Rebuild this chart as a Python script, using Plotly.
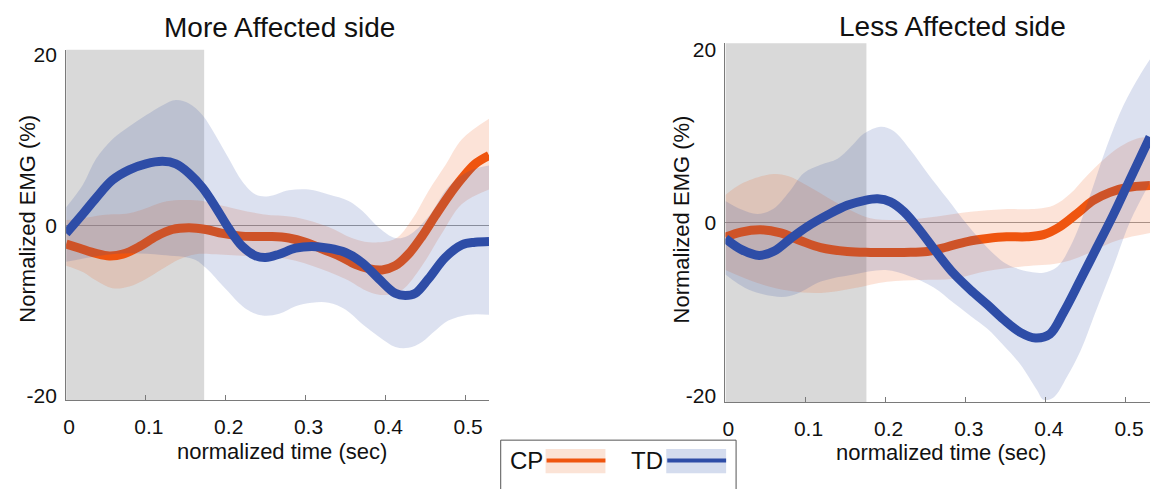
import plotly.graph_objects as go

# ---------------- data: More Affected side ----------------
cp_more_x = [0, 0.017, 0.0375, 0.054, 0.071, 0.092, 0.113, 0.133, 0.154, 0.175, 0.196, 0.217, 0.2375, 0.258,
             0.279, 0.3, 0.321, 0.342, 0.3625, 0.379, 0.396, 0.4125, 0.429, 0.446, 0.4625, 0.479, 0.496, 0.5125, 0.53]
cp_more_y = [-2.2, -2.7, -3.3, -3.6, -3.4, -2.5, -1.3, -0.5, -0.3, -0.5, -0.95, -1.25, -1.33, -1.33,
             -1.5, -2.0, -2.8, -3.6, -4.6, -5.1, -5.25, -4.75, -3.4, -1.3, 1.1, 3.4, 5.5, 7.2, 8.2]
cp_more_up_x = [0, 0.02, 0.046, 0.079, 0.1, 0.121, 0.142, 0.171, 0.196, 0.246, 0.2875, 0.329, 0.358, 0.38,
                0.4125, 0.433, 0.454, 0.475, 0.496, 0.53]
cp_more_up_y = [0.6, 0.8, 1.2, 1.4, 2.0, 2.7, 2.95, 2.85, 2.3, 1.3, 0.95, -0.2, -1.5, -2.0,
                -1.6, 0.6, 4.0, 7.0, 10.1, 12.5]
cp_more_lo_x = [0, 0.021, 0.0375, 0.058, 0.079, 0.1, 0.121, 0.142, 0.1625, 0.183, 0.225, 0.267, 0.308, 0.35,
                0.379, 0.4, 0.421, 0.446, 0.471, 0.496, 0.53]
cp_more_lo_y = [-4.75, -5.5, -6.5, -7.4, -7.2, -6.3, -5.1, -4.0, -3.4, -3.4, -3.6, -3.8, -4.75, -6.3,
                -7.8, -8.2, -7.6, -4.75, -0.95, 2.5, 4.2]

td_more_x = [0, 0.021, 0.0375, 0.058, 0.079, 0.1, 0.121, 0.1375, 0.154, 0.171, 0.1875, 0.204, 0.221, 0.2375,
             0.25, 0.267, 0.2875, 0.308, 0.329, 0.35, 0.371, 0.392, 0.4125, 0.425, 0.4375, 0.454, 0.475, 0.496,
             0.5125, 0.53]
td_more_y = [-0.95, 1.33, 3.2, 5.3, 6.5, 7.2, 7.5, 7.2, 6.1, 4.4, 2.1, -0.4, -2.5, -3.6,
             -3.8, -3.4, -2.7, -2.5, -2.7, -3.2, -4.4, -6.3, -8.0, -8.25, -8.0, -6.3, -3.8, -2.3,
             -2.0, -1.9]
td_more_up_x = [0, 0.021, 0.0375, 0.058, 0.079, 0.1, 0.121, 0.1375, 0.154, 0.171, 0.1875, 0.204, 0.221, 0.2375,
                0.254, 0.279, 0.304, 0.329, 0.354, 0.371, 0.392, 0.4125, 0.429, 0.454, 0.479, 0.504, 0.53]
td_more_up_y = [2.1, 4.75, 7.8, 10.1, 11.6, 12.9, 14.1, 14.7, 14.3, 12.9, 10.5, 7.8, 5.1, 3.6,
                3.4, 4.1, 4.2, 3.6, 2.85, 1.7, -0.3, -1.5, -1.2, 1.0, 4.5, 6.3, 7.0]
td_more_lo_x = [0, 0.04, 0.08, 0.12, 0.16, 0.175, 0.2, 0.225, 0.246, 0.267, 0.2875, 0.308, 0.329, 0.35,
                0.371, 0.392, 0.4125, 0.429, 0.446, 0.4625, 0.479, 0.504, 0.53]
td_more_lo_y = [-4.3, -3.6, -3.3, -3.5, -4.0, -5.0, -7.5, -9.8, -10.6, -10.4, -9.5, -9.1, -9.1, -9.9,
                -11.6, -13.1, -14.3, -14.4, -13.7, -12.4, -11.2, -10.5, -10.5]

# ---------------- data: Less Affected side ----------------
cp_less_x = [0, 0.0195, 0.044, 0.069, 0.094, 0.119, 0.152, 0.181, 0.223, 0.252, 0.277, 0.302, 0.327, 0.351,
             0.376, 0.397, 0.418, 0.439, 0.459, 0.48, 0.501, 0.53]
cp_less_y = [-1.7, -1.1, -0.83, -1.2, -2.1, -2.9, -3.35, -3.45, -3.45, -3.35, -2.8, -2.2, -1.85, -1.65,
             -1.65, -1.4, -0.45, 1.05, 2.55, 3.5, 4.06, 4.3]
cp_less_up_x = [0, 0.02, 0.057, 0.078, 0.1025, 0.131, 0.16, 0.181, 0.223, 0.264, 0.306, 0.347, 0.389, 0.41,
                0.43, 0.451, 0.472, 0.493, 0.513, 0.53]
cp_less_up_y = [3.2, 4.5, 5.6, 5.4, 4.25, 2.7, 1.24, 0.5, 0.3, 0.7, 1.24, 1.54, 1.6, 2.0,
                3.3, 5.4, 7.3, 8.8, 9.7, 9.9]
cp_less_lo_x = [0, 0.04, 0.08, 0.119, 0.16, 0.202, 0.2436, 0.285, 0.327, 0.368, 0.41, 0.43, 0.451, 0.472,
                0.493, 0.53]
cp_less_lo_y = [-5.5, -7.0, -7.9, -8.15, -7.6, -6.85, -6.65, -6.5, -5.6, -5.1, -4.8, -4.4, -3.65, -2.7,
                -1.95, -1.2]

td_less_x = [0, 0.0195, 0.042, 0.061, 0.082, 0.1025, 0.127, 0.152, 0.173, 0.19, 0.206, 0.223, 0.2436, 0.264,
             0.285, 0.306, 0.327, 0.347, 0.368, 0.387, 0.405, 0.422, 0.443, 0.4635, 0.484, 0.505, 0.53]
td_less_y = [-1.85, -3.1, -3.8, -3.3, -1.8, -0.45, 0.86, 2.0, 2.55, 2.75, 2.4, 1.24, -1.0, -3.5,
             -5.9, -7.8, -9.5, -11.2, -12.7, -13.35, -12.9, -10.4, -6.65, -2.9, 0.86, 5.0, 9.9]
td_less_up_x = [0, 0.02, 0.04, 0.06, 0.08, 0.098, 0.119, 0.14, 0.16, 0.173, 0.194, 0.21, 0.231, 0.252,
                0.277, 0.302, 0.327, 0.351, 0.38, 0.397, 0.414, 0.434, 0.455, 0.476, 0.497, 0.517, 0.53]
td_less_up_y = [2.5, 1.5, 1.0, 1.6, 3.6, 5.75, 6.7, 7.4, 9.1, 10.3, 11.1, 10.6, 8.4, 5.75,
                2.75, -0.26, -2.9, -4.8, -5.7, -5.8, -5.15, -2.1, 3.1, 8.8, 13.6, 17.0, 18.9]
td_less_lo_x = [0, 0.03, 0.07, 0.09, 0.12, 0.16, 0.2, 0.23, 0.26, 0.285, 0.306, 0.327, 0.347, 0.368,
                0.389, 0.397, 0.41, 0.426, 0.443, 0.4635, 0.484, 0.505, 0.53]
td_less_lo_y = [-6.0, -7.8, -8.6, -8.2, -6.8, -6.0, -5.5, -6.2, -7.5, -9.3, -10.8, -12.3, -14.2, -16.4,
                -19.4, -20.5, -20.2, -17.9, -14.9, -10.0, -5.15, 0.1, 4.6]

# shaded early window (sec)
shade_more = 0.173
shade_less = 0.176

x_ticks = [0, 0.1, 0.2, 0.3, 0.4, 0.5]
x_ticktext = ["0", "0.1", "0.2", "0.3", "0.4", "0.5"]
y_ticks = [-20, 0, 20]
y_ticktext = ["-20", "0", "20"]

titles = ["More Affected side", "Less Affected side"]
x_title = "normalized time (sec)"
y_title = "Normalized EMG (%)"
legend_names = ["CP", "TD"]

# ---------------- styling ----------------
W, H = 1155, 489
FONT = "Liberation Sans, Arial, sans-serif"
CP_LINE = "#EF550F"
TD_LINE = "#2E4DA7"
CP_BAND = "rgba(240,100,40,0.18)"
TD_BAND = "rgba(46,77,167,0.17)"
AXC = "#7a7a7a"


def px(x):
    return x / W


def py(y):
    return 1 - y / H


fig = go.Figure()


def add_panel(xa, ya, cpx, cpy, cux, cuy, clx, cly, tdx, tdy, tux, tuy, tlx, tly):
    common = dict(xaxis=xa, yaxis=ya, hoverinfo="skip", showlegend=False)
    fig.add_trace(go.Scatter(x=clx, y=cly, mode="lines", line=dict(width=0, shape="spline", smoothing=1),
                             **common))
    fig.add_trace(go.Scatter(x=cux, y=cuy, mode="lines", fill="tonexty", fillcolor=CP_BAND,
                             line=dict(width=0, shape="spline", smoothing=1), **common))
    fig.add_trace(go.Scatter(x=cpx, y=cpy, mode="lines", line=dict(color=CP_LINE, width=9, shape="spline",
                                                                    smoothing=1), **common))
    fig.add_trace(go.Scatter(x=tlx, y=tly, mode="lines", line=dict(width=0, shape="spline", smoothing=1),
                             **common))
    fig.add_trace(go.Scatter(x=tux, y=tuy, mode="lines", fill="tonexty", fillcolor=TD_BAND,
                             line=dict(width=0, shape="spline", smoothing=1), **common))
    fig.add_trace(go.Scatter(x=tdx, y=tdy, mode="lines", line=dict(color=TD_LINE, width=9, shape="spline",
                                                                    smoothing=1), **common))


add_panel("x", "y", cp_more_x, cp_more_y, cp_more_up_x, cp_more_up_y, cp_more_lo_x, cp_more_lo_y,
          td_more_x, td_more_y, td_more_up_x, td_more_up_y, td_more_lo_x, td_more_lo_y)
add_panel("x2", "y2", cp_less_x, cp_less_y, cp_less_up_x, cp_less_up_y, cp_less_lo_x, cp_less_lo_y,
          td_less_x, td_less_y, td_less_up_x, td_less_up_y, td_less_lo_x, td_less_lo_y)

xcommon = dict(range=[0, 0.53], tickvals=x_ticks, ticktext=x_ticktext, ticks="inside", ticklen=5,
               tickcolor=AXC, showline=True, linecolor=AXC, linewidth=1, showgrid=False, zeroline=False,
               tickfont=dict(family=FONT, size=21, color="#111"), ticklabelstandoff=8, ticklabelshift=3)
ycommon = dict(tickvals=y_ticks, ticktext=y_ticktext, ticks="", showline=True, linecolor=AXC, linewidth=1,
               showgrid=False, zeroline=True, zerolinecolor="#9a9a9a", zerolinewidth=1,
               tickfont=dict(family=FONT, size=21, color="#111"), ticklabelstandoff=4)

fig.update_layout(
    width=W, height=H, margin=dict(l=0, r=0, t=0, b=0),
    paper_bgcolor="white", plot_bgcolor="white",
    xaxis=dict(domain=[px(63.3), px(487.3)], anchor="y", **xcommon),
    yaxis=dict(domain=[py(405), py(45)], anchor="x", range=[-20.55, 20.6], **ycommon),
    xaxis2=dict(domain=[px(724.3), px(1150)], anchor="y2", **xcommon),
    yaxis2=dict(domain=[py(406.7), py(38.3)], anchor="x2", range=[-20.75, 20.75], **ycommon),
)

shapes = [
    dict(type="rect", xref="x", yref="y domain", x0=0, x1=shade_more, y0=0, y1=1,
         fillcolor="#d9d9d9", line=dict(width=0), layer="below"),
    dict(type="rect", xref="x2", yref="y2 domain", x0=0, x1=shade_less, y0=0, y1=1,
         fillcolor="#d9d9d9", line=dict(width=0), layer="below"),
    # legend box
    dict(type="rect", xref="paper", yref="paper", x0=px(499), x1=px(735), y0=py(500), y1=py(446),
         line=dict(color="#555", width=1), fillcolor="white", layer="above"),
    dict(type="rect", xref="paper", yref="paper", x0=px(544), x1=px(604), y0=py(480), y1=py(455),
         line=dict(width=0), fillcolor="#FBE3D6", layer="above"),
    dict(type="line", xref="paper", yref="paper", x0=px(545), x1=px(604), y0=py(467), y1=py(467),
         line=dict(color=CP_LINE, width=4), layer="above"),
    dict(type="rect", xref="paper", yref="paper", x0=px(665), x1=px(725), y0=py(480), y1=py(455),
         line=dict(width=0), fillcolor="#D4DCEE", layer="above"),
    dict(type="line", xref="paper", yref="paper", x0=px(666), x1=px(725), y0=py(467), y1=py(467),
         line=dict(color=TD_LINE, width=4), layer="above"),
]
fig.update_layout(shapes=shapes)

ann = []
for cx, cy, t in [(277, 22, titles[0]), (952, 21.5, titles[1])]:
    ann.append(dict(text=t, x=px(cx), y=py(cy), xref="paper", yref="paper", showarrow=False,
                    xanchor="center", yanchor="middle", font=dict(family=FONT, size=28, color="#111")))
for cx, cy in [(280, 458), (940, 459)]:
    ann.append(dict(text=x_title, x=px(cx), y=py(cy), xref="paper", yref="paper", showarrow=False,
                    xanchor="center", yanchor="middle", font=dict(family=FONT, size=22, color="#111")))
for cx, cy in [(25, 218.5), (680, 219)]:
    ann.append(dict(text=y_title, x=px(cx), y=py(cy), xref="paper", yref="paper", showarrow=False,
                    textangle=-90, xanchor="center", yanchor="middle",
                    font=dict(family=FONT, size=22, color="#111")))
for cx, t in [(525, legend_names[0]), (646, legend_names[1])]:
    ann.append(dict(text=t, x=px(cx), y=py(467), xref="paper", yref="paper", showarrow=False,
                    xanchor="center", yanchor="middle", font=dict(family=FONT, size=24, color="#111")))
fig.update_layout(annotations=ann)

fig.write_html("out.html")
